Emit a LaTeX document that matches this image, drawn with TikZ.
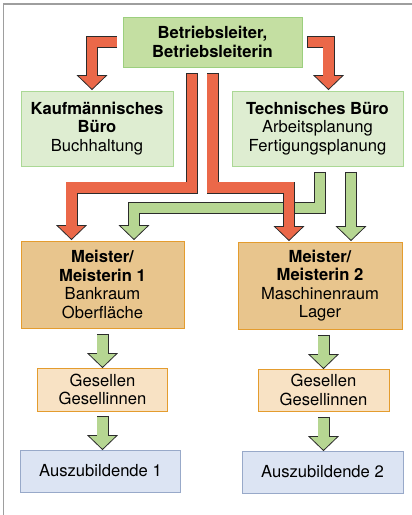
\documentclass[tikz,border=0pt]{standalone}
\usepackage{fontspec}
\setmainfont{TeX Gyre Heros}
\usetikzlibrary{positioning,calc}

\definecolor{rot}{HTML}{EB6849}
\definecolor{gruen}{HTML}{B6D692}
\definecolor{kopfgruen}{HTML}{C4DFA2}
\definecolor{kopfrand}{HTML}{9CCF7E}
\definecolor{hellgruen}{HTML}{DEEDD1}
\definecolor{hellrand}{HTML}{ABD895}
\definecolor{ocker}{HTML}{E8C58D}
\definecolor{ockerrand}{HTML}{E49C2E}
\definecolor{pfirsich}{HTML}{F8E2C4}
\definecolor{blau}{HTML}{DCE4F3}
\definecolor{blaurand}{HTML}{98A9C9}
\definecolor{umriss}{HTML}{2B2B2B}

% fat arrow: #1 colour, #2 shaft path, #3 base of the head
\newcommand\fatarrow[3]{%
  \draw[pfeilschaft] #2;
  \filldraw[pfeilkopf, fill=#1] (#3) ++(-14.5,0) -- ++(29,0) -- ++(-14.5,14) -- cycle;
  \draw[line width=10.6pt, #1] #2 -- ++(0,1);
}

\begin{document}
\begin{tikzpicture}[x=1pt,y=-1pt,on grid,
   box/.style={draw, line width=1pt, align=center, inner sep=0pt,
     font=\fontsize{16.6}{18.5}\selectfont},
   pfeilschaft/.style={draw=umriss, line width=12pt, line join=miter, shorten <=-0.7pt},
   pfeilkopf/.style={draw=umriss, line width=0.8pt},
   rahmen/.style={draw=black!38, line width=1.6pt}]
   \useasboundingbox (0,0) rectangle (412,515);
   \draw[rahmen] (3.5,515) -- (3.5,4) -- (412,4);

   \node[box,fill=kopfgruen,draw=kopfrand,minimum width=179,minimum height=50] (t) at (212.5,42)
      {\bfseries Betriebsleiter,\\\bfseries Betriebsleiterin};
   \node[box,fill=hellgruen,draw=hellrand,minimum width=152,minimum height=75] (k) [below left=86.5pt and 115.5pt of t]
      {\bfseries Kaufmännisches\\\bfseries Büro\\Buchhaltung};
   \node[box,fill=hellgruen,draw=hellrand,minimum width=171,minimum height=75] (b) [below right=86.5pt and 105pt of t]
      {\bfseries Technisches Büro\\Arbeitsplanung\\Fertigungsplanung};
   \node[box,fill=ocker,draw=ockerrand,minimum width=163,minimum height=87] (m1) [below right=156pt and 5.5pt of k]
      {\bfseries Meister/\\\bfseries Meisterin 1\\Bankraum\\Oberfläche};
   \node[box,fill=ocker,draw=ockerrand,minimum width=164,minimum height=87] (m2) [below right=157pt and 2.5pt of b]
      {\bfseries Meister/\\\bfseries Meisterin 2\\Maschinenraum\\Lager};
   \node[box,fill=pfirsich,draw=ockerrand,minimum width=130,minimum height=43] (g1) [below=105pt of m1]
      {Gesellen\\Gesellinnen};
   \node[box,fill=pfirsich,draw=ockerrand,minimum width=131,minimum height=42] (g2) [below right=104.5pt and 3.5pt of m2]
      {Gesellen\\Gesellinnen};
   \node[box,fill=blau,draw=blaurand,minimum width=160,minimum height=42] (a1) [below left=81.5pt and 2pt of g1]
      {Auszubildende 1};
   \node[box,fill=blau,draw=blaurand,minimum width=161,minimum height=42] (a2) [below left=82pt and 1pt of g2]
      {Auszubildende 2};

   % heads and bends
   \coordinate (hk)  at ([xshift=-5pt,yshift=15pt]k.north);
   \coordinate (hb)  at ([xshift=11pt,yshift=15pt]b.north);
   \coordinate (hr1) at ([xshift=-31pt,yshift=15pt]m1.north);
   \coordinate (hg1) at ([xshift=31.5pt,yshift=15pt]m1.north);
   \coordinate (hr2) at ([xshift=-31pt,yshift=15pt]m2.north);
   \coordinate (hg2) at ([xshift=31pt,yshift=15pt]m2.north);
   \coordinate (rr)  at ([yshift=-21pt]k.south);
   \coordinate (gr)  at ([yshift=-41.5pt]b.south);

   % green first, red crosses on top
   \fatarrow{gruen}{([xshift=2.5pt,yshift=-6pt]b.south) |- (hg1 |- gr) -- (hg1)}{hg1}
   \fatarrow{gruen}{([xshift=33.5pt,yshift=-6pt]b.south) -- (hg2)}{hg2}
   \fatarrow{rot}{([xshift=-6pt]t.west) -| (hk)}{hk}
   \fatarrow{rot}{([xshift=5pt]t.east) -| (hb)}{hb}
   \fatarrow{rot}{([xshift=-20.5pt,yshift=-6pt]t.south) |- (hr1 |- rr) -- (hr1)}{hr1}
   \fatarrow{rot}{([yshift=-6pt]t.south) |- (hr2 |- rr) -- (hr2)}{hr2}

   \coordinate (hs1) at ($(m1.south |- g1.north)+(0,-14)$);
   \coordinate (hs2) at ($(g2.north)+(0,-14)$);
   \coordinate (hs3) at ($(g1.south |- a1.north)+(0,-14)$);
   \coordinate (hs4) at ($(g2.south |- a2.north)+(0,-14)$);
   \fatarrow{gruen}{($(m1.south)+(0,6)$) -- (hs1)}{hs1}
   \fatarrow{gruen}{($(hs2 |- m2.south)+(0,6)$) -- (hs2)}{hs2}
   \fatarrow{gruen}{($(g1.south)+(0,5)$) -- (hs3)}{hs3}
   \fatarrow{gruen}{($(g2.south)+(0,6)$) -- (hs4)}{hs4}
\end{tikzpicture}
\end{document}
